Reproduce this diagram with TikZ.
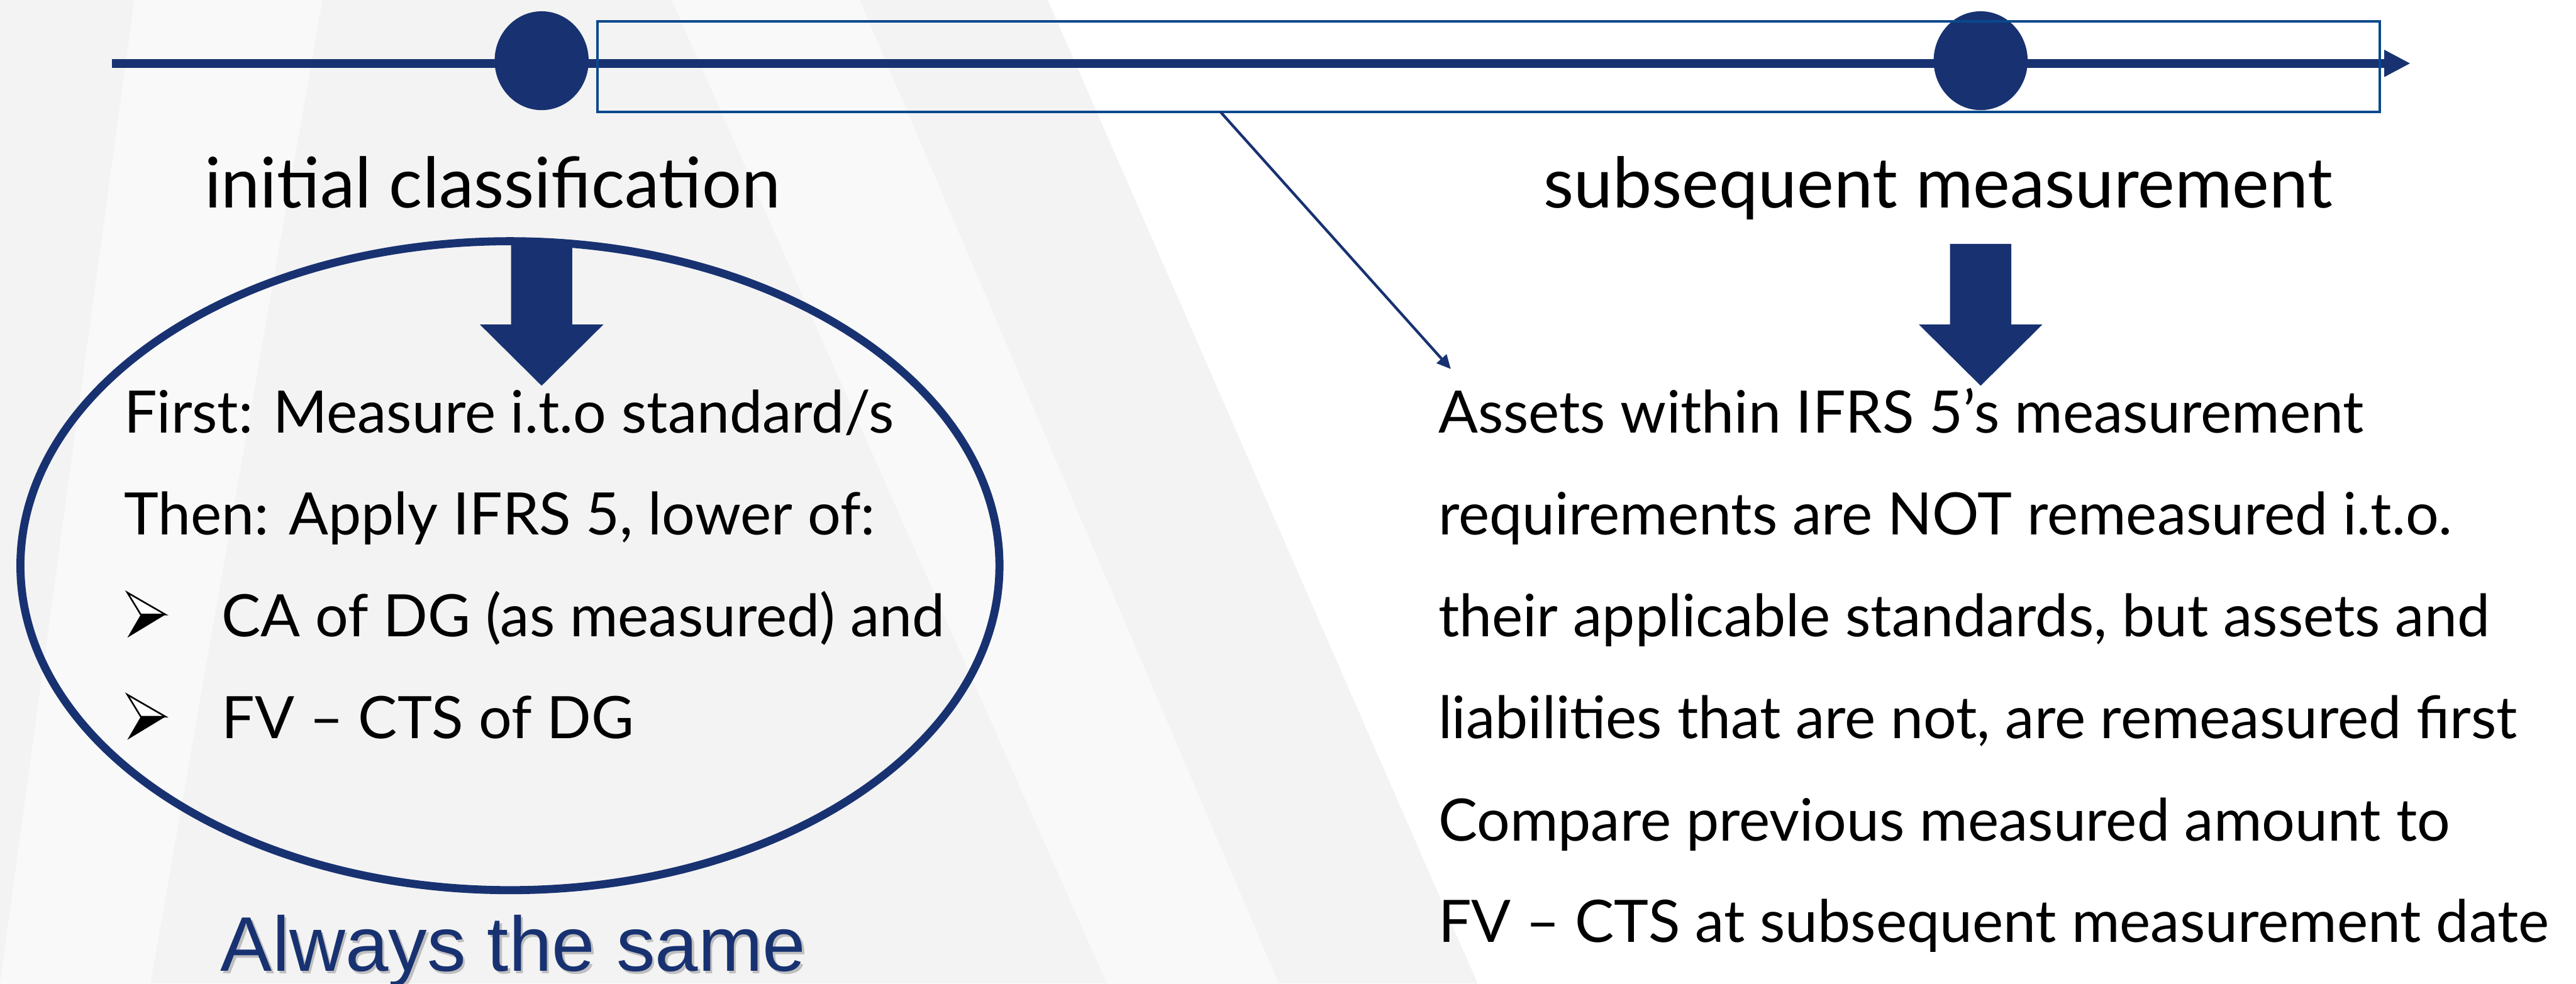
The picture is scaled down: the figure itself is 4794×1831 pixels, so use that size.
\documentclass[tikz,border=0pt]{standalone}
\usepackage{fontspec}
\setmainfont{Lato}
\newfontfamily\bodyfont{Lato}
\newfontfamily\notefont{Liberation Sans}
\usetikzlibrary{arrows.meta,shapes.geometric}

\definecolor{navy}{RGB}{24,50,113}
\definecolor{boxblue}{RGB}{10,73,140}
\definecolor{bggray}{RGB}{243,243,243}
\definecolor{bglight}{RGB}{249,249,249}

\tikzset{
  bodytext/.style={anchor=base west, inner sep=0pt, text=black,
    font=\bodyfont\fontsize{31pt}{37pt}\selectfont},
  headtext/.style={anchor=base west, inner sep=0pt, text=black,
    font=\bodyfont\fontsize{37pt}{44pt}\selectfont},
  notetext/.style={anchor=base west, inner sep=0pt,
    font=\notefont\fontsize{41pt}{48pt}\selectfont},
  milestone/.style={ellipse, fill=navy, inner sep=0pt,
    minimum width=17.5mm, minimum height=18.4mm},
  blockarrow/.pic={
    \fill[navy] (-57,0) -- (57,0) -- (57,150) -- (115,150) -- (0,264)
      -- (-115,150) -- (-57,150) -- cycle;},
  bulletarrow/.pic={
    \draw[black, fill=white, line width=0.3mm, line join=miter]
      (0,0) -- (71,41) -- (25,41) -- cycle;
    \fill[black] (25,41) -- (71,41) -- (0,84) -- cycle;},
}

\begin{document}
\begin{tikzpicture}[x=0.1mm, y=-0.1mm]
\useasboundingbox (0,0) rectangle (4794,1831);

% background with soft diagonal bands
\fill[white] (0,0) rectangle (4794,1831);
\fill[bggray] (0,0) -- (1950,0) -- (2750,1831) -- (0,1831) -- cycle;
\fill[bglight] (250,0) -- (600,0) -- (280,1831) -- (0,1831) -- cycle;
\fill[bglight] (1250,0) -- (1600,0) -- (2380,1831) -- (2060,1831) -- cycle;

% timeline
\coordinate (tlstart) at (208,118);
\coordinate (tlend) at (4486,118);
\draw[navy, line width=1.6mm, -{Triangle[length=4.9mm, width=4.7mm]}]
  (tlstart) -- (tlend);
\node[milestone] (m1) at (1008,113) {};
\node[milestone] (m2) at (3686,113) {};

% period box
\coordinate (boxnw) at (1112,40);
\coordinate (boxse) at (4429,208);
\draw[boxblue, line width=0.45mm] (boxnw) rectangle (boxse);

% link from the box to the subsequent measurement text
\coordinate (linkstart) at (2271,208);
\coordinate (linkend) at (2700,687);
\draw[navy, line width=0.5mm, -{Triangle[length=2.6mm, width=2.4mm]}]
  (linkstart) -- (linkend);

% headings
\node[headtext] (initial) at (380,387) {initial classification};
\node[headtext] (subseq) at (2872,387) {subsequent measurement};

% block arrows
\pic at (1008,454) {blockarrow};
\pic at (3686,454) {blockarrow};

% oval around the initial classification rules
\node[ellipse, draw=navy, line width=1.5mm, inner sep=0pt,
  minimum width=182.2mm, minimum height=120.8mm] (oval) at (949,1053) {};

\node[bodytext] (l1) at (230,806) {First: Measure i.t.o standard/s};
\node[bodytext] (l2) at (230,995) {Then: Apply IFRS 5, lower of:};
\pic at (237,1103) {bulletarrow};
\node[bodytext] (l3) at (412,1185) {CA of DG (as measured) and};
\pic at (237,1293) {bulletarrow};
\node[bodytext] (l4) at (412,1375) {FV – CTS of DG};

\node[notetext, text=black!25] at (414,1812) {Always the same};
\node[notetext, text=navy] (same) at (410,1808) {Always the same};

% subsequent measurement rules
\node[bodytext] (r1) at (2676,806) {Assets within IFRS 5’s measurement};
\node[bodytext] (r2) at (2676,995) {requirements are NOT remeasured i.t.o.};
\node[bodytext] (r3) at (2676,1185) {their applicable standards, but assets and};
\node[bodytext] (r4) at (2676,1375) {liabilities that are not, are remeasured first};
\node[bodytext] (r5) at (2676,1565) {Compare previous measured amount to};
\node[bodytext] (r6) at (2676,1754) {FV – CTS at subsequent measurement date};
\end{tikzpicture}
\end{document}
